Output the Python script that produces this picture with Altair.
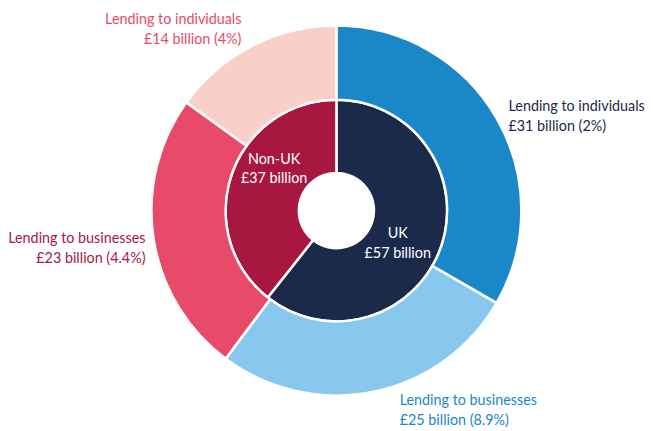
import altair as alt
import pandas as pd

# ---- data ----
segments = ["UK", "Non-UK"]
segment_values = [57, 37]

lending_types = ["Lending to individuals", "Lending to businesses",
                 "Lending to businesses", "Lending to individuals"]
lending_segment = ["UK", "UK", "Non-UK", "Non-UK"]
lending_values = [31, 25, 23, 14]
lending_growth = ["2%", "8.9%", "4.4%", "4%"]

inner_colors = ["#1b2a4a", "#a8173f"]
outer_colors = ["#1a87c9", "#88c8ef", "#e84a6a", "#f9cfc7"]
outer_text_colors = ["#1b2a4a", "#1a87c9", "#a8173f", "#e84a6a"]

inner_df = pd.DataFrame({
    "key": segments,
    "value": segment_values,
    "idx": list(range(len(segments))),
})
outer_keys = [f"{s} {t}" for s, t in zip(lending_segment, lending_types)]
outer_df = pd.DataFrame({
    "key": outer_keys,
    "value": lending_values,
    "idx": list(range(len(lending_values))),
})

CX, CY = 332, 202.5
R_OUT, R_MID, R_HOLE = 187, 112, 38
FONT = "Lato"
FS = 14.5

inner = alt.Chart(inner_df).mark_arc(
    radius=R_MID, radius2=R_HOLE, stroke="white", strokeWidth=2.5
).encode(
    x=alt.value(CX), y=alt.value(CY),
    theta=alt.Theta("value:Q", stack=True),
    color=alt.Color("key:N", scale=alt.Scale(domain=segments, range=inner_colors), legend=None),
    order=alt.Order("idx:Q"),
)

outer = alt.Chart(outer_df).mark_arc(
    radius=R_OUT, radius2=R_MID, stroke="white", strokeWidth=2.5
).encode(
    x=alt.value(CX), y=alt.value(CY),
    theta=alt.Theta("value:Q", stack=True),
    color=alt.Color("key:N", scale=alt.Scale(domain=outer_keys, range=outer_colors), legend=None),
    order=alt.Order("idx:Q"),
)


def label(lines, x, y, color, align):
    return alt.Chart(pd.DataFrame({"a": [0]})).mark_text(
        font=FONT, fontSize=FS, color=color, align=align,
        baseline="alphabetic", lineHeight=20,
    ).encode(x=alt.value(x), y=alt.value(y), text=alt.value(lines))


def outer_lines(i):
    return [lending_types[i], f"£{lending_values[i]} billion ({lending_growth[i]})"]


labels = [
    label(outer_lines(0), 506, 102, outer_text_colors[0], "left"),
    label(outer_lines(1), 396, 399, outer_text_colors[1], "left"),
    label(outer_lines(2), 139, 235, outer_text_colors[2], "right"),
    label(outer_lines(3), 236, 14, outer_text_colors[3], "right"),
    label([segments[0], f"£{segment_values[0]} billion"], 394, 230, "white", "center"),
    label([segments[1], f"£{segment_values[1]} billion"], 269, 155, "white", "center"),
]

chart = alt.layer(inner, outer, *labels).resolve_scale(
    theta="independent", color="independent"
).properties(
    width=637, height=415, padding=0
).configure_view(stroke=None)

chart.save("out.html", embed_options={"renderer": "svg", "actions": False})
